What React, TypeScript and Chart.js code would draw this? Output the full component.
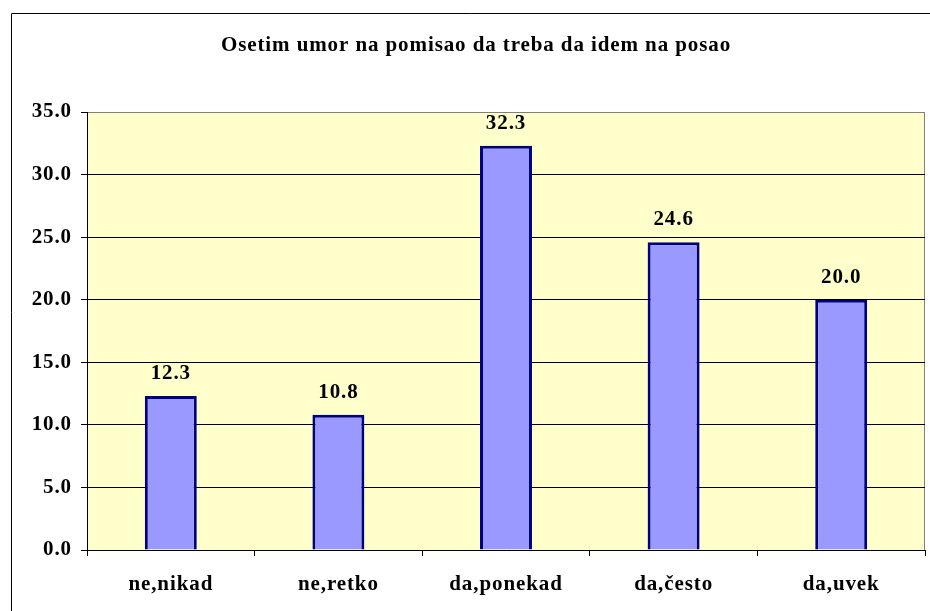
import React, { useEffect, useRef } from "react";
import { Chart, registerables } from "chart.js";

Chart.register(...registerables);

const TITLE = "Osetim umor na pomisao da treba da idem na posao";
const categories = ["ne,nikad", "ne,retko", "da,ponekad", "da,često", "da,uvek"];
const values = [12.3, 10.8, 32.3, 24.6, 20.0];
const yMin = 0;
const yMax = 35;
const yStep = 5;

const FONT = '"Liberation Serif"';
const SPACING = "0.9px";

const framePlugin = {
  id: "frame",
  beforeLayout(chart: any) {
    chart.ctx.letterSpacing = SPACING;
  },
  beforeDraw(chart: any) {
    const { ctx, chartArea } = chart;
    ctx.letterSpacing = SPACING;
    ctx.save();
    ctx.fillStyle = "#ffffff";
    ctx.fillRect(0, 0, chart.width, chart.height);
    ctx.strokeStyle = "#000000";
    ctx.lineWidth = 1;
    ctx.beginPath();
    ctx.moveTo(11.5, chart.height);
    ctx.lineTo(11.5, 13.5);
    ctx.lineTo(chart.width, 13.5);
    ctx.stroke();
    ctx.fillStyle = "#FFFFCC";
    ctx.fillRect(chartArea.left, chartArea.top, chartArea.right - chartArea.left, chartArea.bottom - chartArea.top);
    ctx.strokeStyle = "#808080";
    ctx.beginPath();
    ctx.moveTo(chartArea.left, chartArea.top + 0.5);
    ctx.lineTo(chartArea.right - 0.5, chartArea.top + 0.5);
    ctx.lineTo(chartArea.right - 0.5, chartArea.bottom);
    ctx.stroke();
    ctx.fillStyle = "#000000";
    ctx.font = `bold 21px ${FONT}`;
    ctx.textAlign = "center";
    ctx.textBaseline = "alphabetic";
    ctx.fillText(TITLE, 476, 51);
    ctx.restore();
  },
  afterDatasetsDraw(chart: any) {
    const { ctx } = chart;
    const meta = chart.getDatasetMeta(0);
    ctx.save();
    ctx.letterSpacing = SPACING;
    ctx.fillStyle = "#000000";
    ctx.font = `bold 21px ${FONT}`;
    ctx.textAlign = "center";
    ctx.textBaseline = "alphabetic";
    meta.data.forEach((bar: any, i: number) => {
      ctx.fillText(values[i].toFixed(1), bar.x, bar.y - 17);
    });
    ctx.restore();
  },
};

export default function App() {
  const ref = useRef<HTMLCanvasElement>(null);
  useEffect(() => {
    document.body.style.margin = "0";
    const chart = new Chart(ref.current!, {
      type: "bar",
      data: {
        labels: categories,
        datasets: [
          {
            data: values,
            backgroundColor: "#9999FF",
            borderColor: "#000080",
            borderWidth: 3,
            categoryPercentage: 1,
            barPercentage: 0.31,
          },
        ],
      },
      options: {
        responsive: false,
        animation: false,
        layout: { padding: { top: 112, right: 5, left: 0, bottom: 0 } },
        plugins: {
          legend: { display: false },
          title: { display: false },
          tooltip: { enabled: false },
        },
        scales: {
          x: {
            offset: true,
            grid: {
              offset: true,
              drawOnChartArea: false,
              drawTicks: true,
              tickLength: 6,
              tickColor: "#000000",
            },
            border: { color: "#000000", width: 1 },
            ticks: {
              color: "#000000",
              font: { family: FONT, size: 21, weight: "bold" },
              padding: 16,
              maxRotation: 0,
            },
            afterFit(scale: any) {
              scale.height = 61;
            },
          },
          y: {
            min: yMin,
            max: yMax,
            grid: {
              color: (c: any) => (c.tick && c.tick.value === yMax ? "#808080" : "#000000"),
              tickColor: "#000000",
              tickLength: 6,
              lineWidth: 1,
            },
            border: { color: "#000000", width: 1 },
            ticks: {
              stepSize: yStep,
              color: "#000000",
              font: { family: FONT, size: 21, weight: "bold" },
              padding: 9,
              callback: (v: any) => Number(v).toFixed(1),
            },
            afterFit(scale: any) {
              scale.width = 87;
            },
          },
        },
      },
      plugins: [framePlugin],
    });
    return () => chart.destroy();
  }, []);
  return <canvas ref={ref} width={930} height={611} style={{ display: "block" }} />;
}
